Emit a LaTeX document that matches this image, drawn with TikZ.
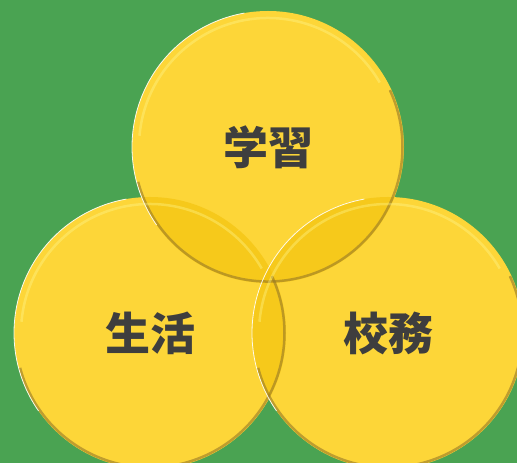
\documentclass[tikz,border=0pt]{standalone}
\usepackage{fontspec}
\usepackage{tikz}
\usetikzlibrary{positioning}
\newfontfamily\jpfont{Noto Sans CJK JP}
\definecolor{bggreen}{RGB}{74,163,82}
\definecolor{discyellow}{RGB}{253,214,56}
\definecolor{overlapyellow}{RGB}{244,196,16}
\definecolor{labelgray}{RGB}{62,62,62}
\definecolor{rimdark}{RGB}{150,120,40}
\begin{document}
\begin{tikzpicture}[on grid, auto,
    disc/.style={circle, fill=discyellow, minimum size=272pt, inner sep=0pt,
      font=\jpfont\bfseries\fontsize{45}{45}\selectfont, text=labelgray},
    overlap/.style={fill=overlapyellow, fill opacity=0.7},
    rimlight/.style={draw=yellow!40!white, line width=2.5pt, opacity=0.35},
    rimdark/.style={draw=rimdark, line width=2.5pt, opacity=0.6},
    rimwhite/.style={draw=white, line width=0.8pt, opacity=0.9}]
        \fill[bggreen] (0,0) rectangle (517pt,463pt);
        \useasboundingbox (0,0) rectangle (517pt,463pt);
        \node[disc]            (L)                          at (150pt,130pt) {};
        \node[disc]            (R)  [right=238pt of L]      {};
        \node[disc]            (T)  [above right=186pt and 118pt of L] {};

        % darker where two discs meet
        \begin{scope}
          \clip (T.center) circle (136pt);
          \fill[overlap] (L.center) circle (136pt);
          \fill[overlap] (R.center) circle (136pt);
        \end{scope}
        \begin{scope}
          \clip (L.center) circle (136pt);
          \fill[overlap] (R.center) circle (136pt);
        \end{scope}

        % bevelled rims
        \foreach \d in {T,L,R} {
          \draw[rimlight] (\d.center) ++(175:129pt) arc (175:30:129pt);
          \draw[rimdark]  (\d.center) ++(-165:134.5pt) arc (-165:25:134.5pt);
          \draw[rimwhite] (\d.center) ++(100:136pt) arc (100:215:136pt);
        }

        \node[disc, fill=none] at (T) {学習};
        \node[disc, fill=none] at (L) {生活};
        \node[disc, fill=none] at (R) {校務};
      \end{tikzpicture}
\end{document}
